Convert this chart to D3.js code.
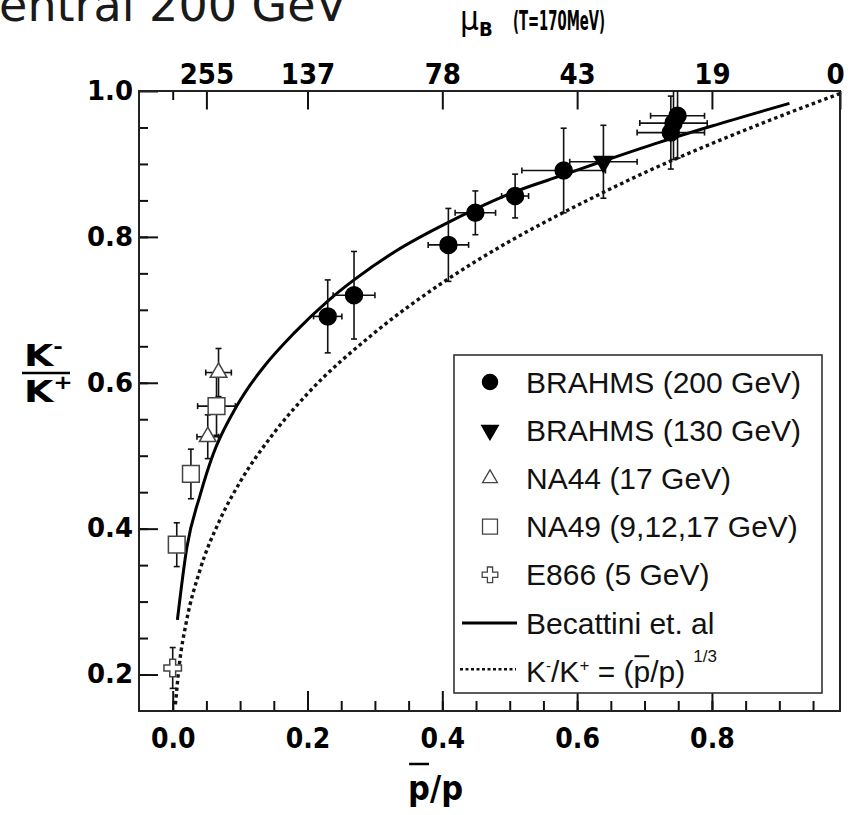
<!DOCTYPE html>
<html>
<head>
<meta charset="utf-8">
<script src="https://cdn.jsdelivr.net/npm/d3@7"></script>
<style>
  body { margin: 0; background: #fff; }
  svg { display: block; }
</style>
</head>
<body>
<div id="chart"></div>
<script>
// BRAHMS 200 GeV (filled circles)
const brahms200X    = [0.230, 0.269, 0.409, 0.449, 0.508, 0.580, 0.739, 0.743, 0.749];
const brahms200Y    = [0.691, 0.720, 0.789, 0.833, 0.856, 0.891, 0.943, 0.956, 0.966];
const brahms200Xerr = [0.021, 0.031, 0.030, 0.030, 0.020, 0.062, 0.050, 0.050, 0.040];
const brahms200Yerr = [0.050, 0.060, 0.050, 0.030, 0.030, 0.058, 0.050, 0.050, 0.058];

// BRAHMS 130 GeV (filled down triangle)
const brahms130X    = [0.639];
const brahms130Y    = [0.903];
const brahms130Xerr = [0.050];
const brahms130Yerr = [0.050];

// NA44 17 GeV (open triangles)
const na44X    = [0.052, 0.068];
const na44Y    = [0.526, 0.614];
const na44Xerr = [0.016, 0.019];
const na44Yerr = [0.030, 0.033];

// NA49 9,12,17 GeV (open squares)
const na49X    = [0.006, 0.027, 0.065];
const na49Y    = [0.378, 0.475, 0.568];
const na49Xerr = [0, 0, 0.028];
const na49Yerr = [0.030, 0.034, 0.040];

// E866 5 GeV (open cross)
const e866X    = [0.000];
const e866Y    = [0.209];
const e866Xerr = [0];
const e866Yerr = [0.028];

// Becattini et al. (solid curve)
const becattiniX = [0.007, 0.021, 0.041, 0.060, 0.090, 0.115, 0.137, 0.180, 0.230, 0.269, 0.330, 0.409, 0.449, 0.508, 0.580, 0.639, 0.723, 0.800, 0.915];
const becattiniY = [0.275, 0.374, 0.447, 0.502, 0.560, 0.597, 0.624, 0.668, 0.712, 0.741, 0.780, 0.820, 0.838, 0.862, 0.885, 0.904, 0.930, 0.952, 0.983];

// K-/K+ = (pbar/p)^(1/3) (dotted curve)
const dottedX = [0.004, 0.010, 0.020, 0.040, 0.070, 0.100, 0.150, 0.200, 0.300, 0.400, 0.500, 0.600, 0.700, 0.800, 0.900, 1.000];
const dottedY = [0.159, 0.215, 0.271, 0.342, 0.412, 0.464, 0.531, 0.585, 0.669, 0.737, 0.794, 0.843, 0.888, 0.928, 0.965, 1.000];

// axis ticks
const xMajorTicks = [0.0, 0.2, 0.4, 0.6, 0.8];
const yMajorTicks = [0.2, 0.4, 0.6, 0.8, 1.0];
const muTickPos    = [0.05, 0.2, 0.4, 0.6, 0.8, 1.0];
const muTickLabels = ["255", "137", "78", "43", "19", "0"];
const muMinorTicks = [0.0];

const legendLabels = ["BRAHMS (200 GeV)", "BRAHMS (130 GeV)", "NA44 (17 GeV)", "NA49 (9,12,17 GeV)", "E866 (5 GeV)", "Becattini et. al"];

function draw_ratio_chart() {
    const margin = {top: 91, right: 12, bottom: 104, left: 139},
          width = 852 - margin.left - margin.right,
          height = 815 - margin.top - margin.bottom;

    const root = d3.select("#chart").append("svg")
        .attr("width", 852).attr("height", 815);

    // cut off title from the slide above
    root.append("text")
        .attr("x", -33).attr("y", 21)
        .style("font-family", "'DejaVu Sans', sans-serif")
        .style("font-size", "46px")
        .style("fill", "#1a1a1a")
        .text("Central 200 GeV");

    const svg = root.append("g")
        .attr("transform", `translate(${margin.left},${margin.top})`);

    const x = d3.scaleLinear().domain([-0.05, 0.99]).range([0, width]);
    const y = d3.scaleLinear().domain([0.15, 1.0]).range([height, 0]);
    const xTop = x.copy().clamp(true);

    const condensed = "'DejaVu Sans Condensed', 'DejaVu Sans', sans-serif";
    const styleAxis = (g, family, size) => {
        g.select(".domain").remove();
        g.selectAll("line").attr("stroke", "#111").attr("stroke-width", 2);
        g.selectAll("text")
            .style("font-family", family)
            .style("font-weight", "bold")
            .style("font-size", size)
            .style("fill", "#000");
    };

    // minor ticks
    const minorX = x.ticks(20).filter(v => v > -0.049 && v < 0.985);
    const minorY = y.ticks(20).filter(v => v > 0.151 && v < 0.999);

    svg.append("g").attr("transform", `translate(0,${height})`)
        .call(d3.axisBottom(x).tickValues(minorX).tickSize(-10).tickFormat(""))
        .call(g => styleAxis(g, condensed, "28px"));
    svg.append("g").attr("transform", `translate(0,${height})`)
        .call(d3.axisBottom(x).tickValues(xMajorTicks).tickSizeInner(-20).tickSizeOuter(0)
            .tickPadding(17).tickFormat(d3.format(".1f")))
        .call(g => styleAxis(g, condensed, "28px"));

    svg.append("g")
        .call(d3.axisLeft(y).tickValues(minorY).tickSize(-9).tickFormat(""))
        .call(g => styleAxis(g, "'DejaVu Sans', sans-serif", "26px"));
    svg.append("g")
        .call(d3.axisLeft(y).tickValues(yMajorTicks).tickSizeInner(-19).tickSizeOuter(0)
            .tickPadding(6).tickFormat(d3.format(".1f")))
        .call(g => styleAxis(g, "'DejaVu Sans', sans-serif", "26px"));

    // top axis: mu_B at T=170 MeV
    svg.append("g")
        .call(d3.axisTop(xTop).tickValues(muMinorTicks).tickSize(-9).tickFormat(""))
        .call(g => styleAxis(g, condensed, "29px"));
    svg.append("g")
        .call(d3.axisTop(xTop).tickValues(muTickPos).tickSizeInner(-18.5).tickSizeOuter(0)
            .tickPadding(7).tickFormat((d, i) => muTickLabels[i]))
        .call(g => styleAxis(g, condensed, "29px"))
        .call(g => g.selectAll("text").attr("dy", "0"))
        .call(g => g.selectAll("text").filter(d => d === 1.0).attr("dx", -5));

    // frame
    svg.append("rect")
        .attr("width", width).attr("height", height)
        .attr("fill", "none").attr("stroke", "#222").attr("stroke-width", 2);

    svg.append("clipPath").attr("id", "plot-clip")
        .append("rect").attr("width", width).attr("height", height);
    const plot = svg.append("g").attr("clip-path", "url(#plot-clip)");

    // curves
    const curve = (xs, ys) => d3.line().curve(d3.curveMonotoneX)
        .x((d, i) => x(xs[i])).y((d, i) => y(ys[i]))(xs);

    plot.append("path")
        .attr("d", curve(dottedX, dottedY))
        .attr("fill", "none").attr("stroke", "#111")
        .attr("stroke-width", 3.4)
        .style("stroke-dasharray", "3.5,3.2");

    plot.append("path")
        .attr("d", curve(becattiniX, becattiniY))
        .attr("fill", "none").attr("stroke", "#000")
        .attr("stroke-width", 3);

    // error bars
    const cap = 3;
    const drawErrors = (xs, ys, xe, ye) => {
        const g = plot.append("g").attr("stroke", "#111").attr("stroke-width", 1.6);
        xs.forEach((xv, i) => {
            const cx = x(xv), cy = y(ys[i]);
            if (xe[i] > 0) {
                const x0 = x(xv - xe[i]), x1 = x(xv + xe[i]);
                g.append("line").attr("x1", x0).attr("x2", x1).attr("y1", cy).attr("y2", cy);
                g.append("line").attr("x1", x0).attr("x2", x0).attr("y1", cy - cap).attr("y2", cy + cap);
                g.append("line").attr("x1", x1).attr("x2", x1).attr("y1", cy - cap).attr("y2", cy + cap);
            }
            if (ye[i] > 0) {
                const y0 = y(ys[i] - ye[i]), y1 = y(ys[i] + ye[i]);
                g.append("line").attr("x1", cx).attr("x2", cx).attr("y1", y0).attr("y2", y1);
                g.append("line").attr("x1", cx - cap).attr("x2", cx + cap).attr("y1", y0).attr("y2", y0);
                g.append("line").attr("x1", cx - cap).attr("x2", cx + cap).attr("y1", y1).attr("y2", y1);
            }
        });
    };

    drawErrors(na49X, na49Y, na49Xerr, na49Yerr);
    drawErrors(na44X, na44Y, na44Xerr, na44Yerr);
    drawErrors(e866X, e866Y, e866Xerr, e866Yerr);
    drawErrors(brahms200X, brahms200Y, brahms200Xerr, brahms200Yerr);
    drawErrors(brahms130X, brahms130Y, brahms130Xerr, brahms130Yerr);

    // marker styles
    const markers = [
        { sym: d3.symbolCircle,   size: 227, rot: 0,   fill: "#000", stroke: "#000" },
        { sym: d3.symbolTriangle, size: 150, rot: 180, fill: "#000", stroke: "#000" },
        { sym: d3.symbolTriangle, size: 120, rot: 0,   fill: "#fff", stroke: "#444" },
        { sym: d3.symbolSquare,   size: 280, rot: 0,   fill: "#fff", stroke: "#444" },
        { sym: d3.symbolCross,    size: 170, rot: 0,   fill: "#fff", stroke: "#444" }
    ];

    const drawMarkers = (xs, ys, m) => {
        plot.append("g").selectAll("path").data(xs).join("path")
            .attr("d", d3.symbol().type(m.sym).size(m.size))
            .attr("transform", (d, i) => `translate(${x(d)},${y(ys[i])}) rotate(${m.rot})`)
            .attr("fill", m.fill).attr("stroke", m.stroke).attr("stroke-width", 1.5);
    };

    drawMarkers(na49X, na49Y, markers[3]);
    drawMarkers(na44X, na44Y, markers[2]);
    drawMarkers(e866X, e866Y, markers[4]);
    drawMarkers(brahms200X, brahms200Y, markers[0]);
    drawMarkers(brahms130X, brahms130Y, markers[1]);

    // --- Legend ---
    const legend = root.append("g").attr("transform", "translate(454,355)");
    legend.append("rect")
        .attr("width", 368).attr("height", 338)
        .attr("fill", "#fff").attr("stroke", "#333").attr("stroke-width", 1.6);

    const rowY = i => 27 + i * 48.2;
    const legendFont = "'Liberation Sans', Arial, sans-serif";

    legendLabels.forEach((label, i) => {
        const item = legend.append("g").attr("transform", `translate(0,${rowY(i)})`);
        if (i < 5) {
            const m = markers[i];
            item.append("path")
                .attr("d", d3.symbol().type(m.sym).size(m.size * 0.8))
                .attr("transform", `translate(36,0) rotate(${m.rot})`)
                .attr("fill", m.fill).attr("stroke", m.stroke).attr("stroke-width", 1.3);
        } else {
            item.append("line").attr("x1", 8).attr("x2", 63).attr("y1", 0).attr("y2", 0)
                .attr("stroke", "#000").attr("stroke-width", 3);
        }
        item.append("text")
            .attr("x", 72).attr("y", 10.5)
            .style("font-family", legendFont)
            .style("font-size", "30px")
            .style("fill", "#111")
            .text(label);
    });

    // last legend row: dotted + formula
    const last = legend.append("g").attr("transform", `translate(0,${rowY(6)})`);
    last.append("line").attr("x1", 6).attr("x2", 62).attr("y1", -2).attr("y2", -2)
        .attr("stroke", "#111").attr("stroke-width", 2.5).style("stroke-dasharray", "3,2.5");
    const ft = last.append("text")
        .attr("x", 72).attr("y", 10.5)
        .style("font-family", legendFont)
        .style("font-size", "30px")
        .style("fill", "#111");
    ft.append("tspan").text("K");
    ft.append("tspan").attr("dy", -11).style("font-size", "15px").text("-");
    ft.append("tspan").attr("dy", 11).text("/K");
    ft.append("tspan").attr("dy", -11).style("font-size", "17px").text("+");
    ft.append("tspan").attr("dy", 11).text(" = (");
    ft.append("tspan").text("p");
    ft.append("tspan").text("/p)");
    ft.append("tspan").attr("dx", 8).attr("dy", -20).style("font-size", "17px").text("1/3");
    {
        const node = ft.node();
        const pre = "K-/K+ = (".length;
        const start = node.getStartPositionOfChar(pre);
        const end = node.getEndPositionOfChar(pre);
        last.append("line")
            .attr("x1", start.x + 1).attr("x2", end.x - 1)
            .attr("y1", -15).attr("y2", -15)
            .attr("stroke", "#111").attr("stroke-width", 2);
    }

    // --- Axis titles ---
    const kTitle = (yy, sup) => {
        const t = root.append("text")
            .attr("transform", `translate(24,${yy}) scale(1.22,1)`)
            .style("font-family", "'DejaVu Sans', sans-serif")
            .style("font-weight", "bold")
            .style("font-size", "31px")
            .style("fill", "#000");
        t.append("tspan").text("K");
        t.append("tspan").attr("dy", -13).style("font-size", "19px").text(sup);
    };
    kTitle(366, "-");
    kTitle(402, "+");
    root.append("line")
        .attr("x1", 22).attr("x2", 70).attr("y1", 373).attr("y2", 373)
        .attr("stroke", "#000").attr("stroke-width", 2.5);

    const xt = root.append("text")
        .attr("x", margin.left + x(0.39)).attr("y", 800)
        .attr("text-anchor", "middle")
        .style("font-family", condensed)
        .style("font-weight", "bold")
        .style("font-size", "34px")
        .style("fill", "#000")
        .text("p/p");
    {
        const s = xt.node().getStartPositionOfChar(0);
        const e = xt.node().getEndPositionOfChar(0);
        root.append("line")
            .attr("x1", s.x + 1).attr("x2", e.x - 1).attr("y1", 764).attr("y2", 764)
            .attr("stroke", "#000").attr("stroke-width", 2.5);
    }

    // mu_B label on top
    const mt = root.append("text")
        .attr("x", 460).attr("y", 30)
        .style("font-family", condensed)
        .style("font-weight", "bold")
        .style("fill", "#000");
    mt.append("tspan").style("font-size", "33px").style("font-weight", "normal").text("\u03bc");
    mt.append("tspan").attr("dy", 6).style("font-size", "20px").text("B");
    mt.append("tspan").attr("x", 513).attr("dy", -6)
        .attr("textLength", 92).attr("lengthAdjust", "spacingAndGlyphs")
        .style("font-size", "27px").text("(T=170MeV)");
}

draw_ratio_chart();
</script>
</body>
</html>
